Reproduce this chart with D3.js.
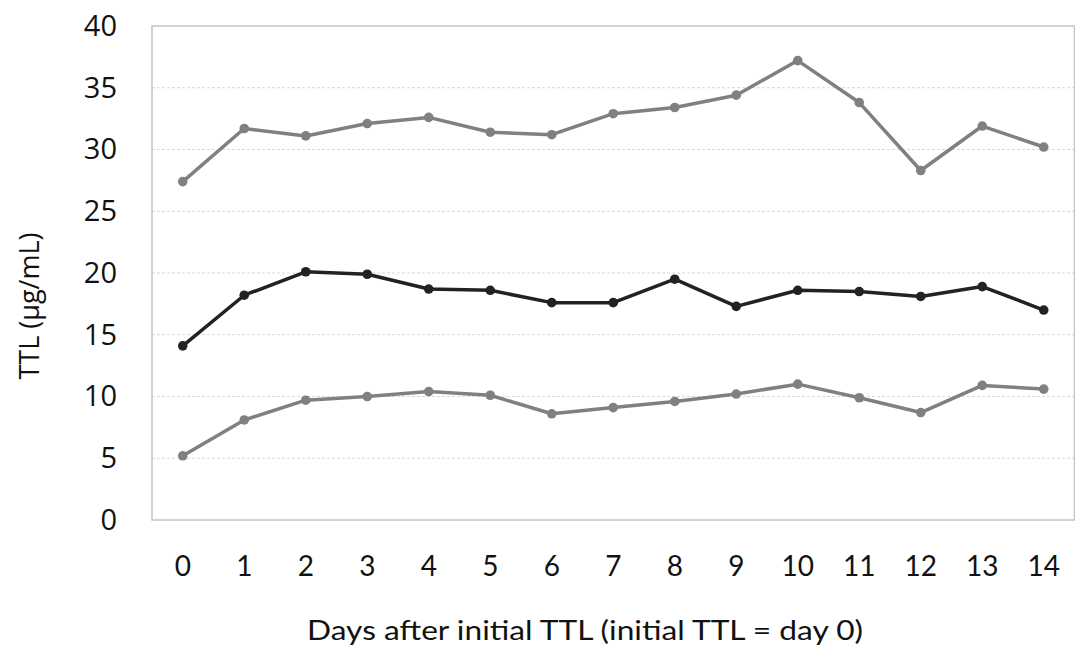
<!DOCTYPE html>
<html>
<head>
<meta charset="utf-8">
<script src="https://cdn.jsdelivr.net/npm/d3@7"></script>
<style>
  body { margin: 0; background: #fff; }
  svg { display: block; }
</style>
</head>
<body>
<svg id="chart" width="1075" height="646"></svg>
<script>
const days = d3.range(0, 15)
const yTicks = [0, 5, 10, 15, 20, 25, 30, 35, 40]

// upper, middle (mean) and lower series
const upper = [27.4, 31.7, 31.1, 32.1, 32.6, 31.4, 31.2, 32.9, 33.4, 34.4, 37.2, 33.8, 28.3, 31.9, 30.2]
const middle = [14.1, 18.2, 20.1, 19.9, 18.7, 18.6, 17.6, 17.6, 19.5, 17.3, 18.6, 18.5, 18.1, 18.9, 17.0]
const lower = [5.2, 8.1, 9.7, 10.0, 10.4, 10.1, 8.6, 9.1, 9.6, 10.2, 11.0, 9.9, 8.7, 10.9, 10.6]

const series = [
  { name: 'upper', values: upper, color: '#808080' },
  { name: 'lower', values: lower, color: '#808080' },
  { name: 'middle', values: middle, color: '#222222' }
]

const svg = d3.select('#chart')
const plot = { left: 152, right: 1074.5, top: 26, bottom: 520 }

const x = d3.scaleBand()
  .domain(days)
  .range([plot.left, plot.right])

const y = d3.scaleLinear()
  .domain([0, 40])
  .range([plot.bottom, plot.top])

// dashed gridlines
svg.append('g')
  .selectAll('line')
  .data(yTicks.filter(t => t > 0 && t < 40))
  .enter()
  .append('line')
  .attr('x1', plot.left)
  .attr('x2', plot.right)
  .attr('y1', d => y(d))
  .attr('y2', d => y(d))
  .attr('stroke', '#d9d9d9')
  .attr('stroke-width', 1)
  .attr('stroke-dasharray', '3,2')

// plot border
svg.append('rect')
  .attr('x', plot.left)
  .attr('y', plot.top)
  .attr('width', plot.right - plot.left)
  .attr('height', plot.bottom - plot.top)
  .attr('fill', 'none')
  .attr('stroke', '#c4c4c4')
  .attr('stroke-width', 1.5)

// y axis labels
const yAxis = svg.append('g')
  .attr('transform', `translate(${plot.left - 35},0)`)
  .call(d3.axisLeft(y).tickValues(yTicks).tickSize(0).tickPadding(0))
yAxis.select('.domain').remove()
yAxis.selectAll('text')
  .attr('font-family', '"Open Sans", sans-serif')
  .attr('font-size', 29)
  .attr('fill', '#111')

// x axis labels
const xAxis = svg.append('g')
  .attr('transform', `translate(0,${plot.bottom + 36})`)
  .call(d3.axisBottom(x).tickSize(0).tickPadding(0))
xAxis.select('.domain').remove()
xAxis.selectAll('text')
  .attr('font-family', 'Lato, sans-serif')
  .attr('font-size', 28)
  .attr('fill', '#111')

// axis titles
svg.append('text')
  .attr('x', 585)
  .attr('y', 640)
  .attr('text-anchor', 'middle')
  .attr('font-family', 'Lato, sans-serif')
  .attr('font-size', 27)
  .attr('textLength', 556)
  .attr('lengthAdjust', 'spacingAndGlyphs')
  .attr('fill', '#111')
  .text('Days after initial TTL (initial TTL = day 0)')

svg.append('text')
  .attr('transform', 'translate(39,306) rotate(-90)')
  .attr('text-anchor', 'middle')
  .attr('font-family', '"Open Sans", sans-serif')
  .attr('font-size', 27)
  .attr('fill', '#111')
  .text('TTL (µg/mL)')

const line = d3.line()
  .x((d, i) => x(days[i]) + x.bandwidth() / 2)
  .y(d => y(d))

const groups = svg.append('g')
  .selectAll('g')
  .data(series)
  .enter()
  .append('g')

groups.append('path')
  .attr('d', d => line(d.values))
  .attr('fill', 'none')
  .attr('stroke', d => d.color)
  .attr('stroke-width', 3.5)
  .attr('stroke-linejoin', 'round')

groups.selectAll('circle')
  .data(d => d.values.map(v => ({ v: v, color: d.color })))
  .enter()
  .append('circle')
  .attr('cx', (d, i) => x(days[i]) + x.bandwidth() / 2)
  .attr('cy', d => y(d.v))
  .attr('r', 4.8)
  .attr('fill', d => d.color)
</script>
</body>
</html>
